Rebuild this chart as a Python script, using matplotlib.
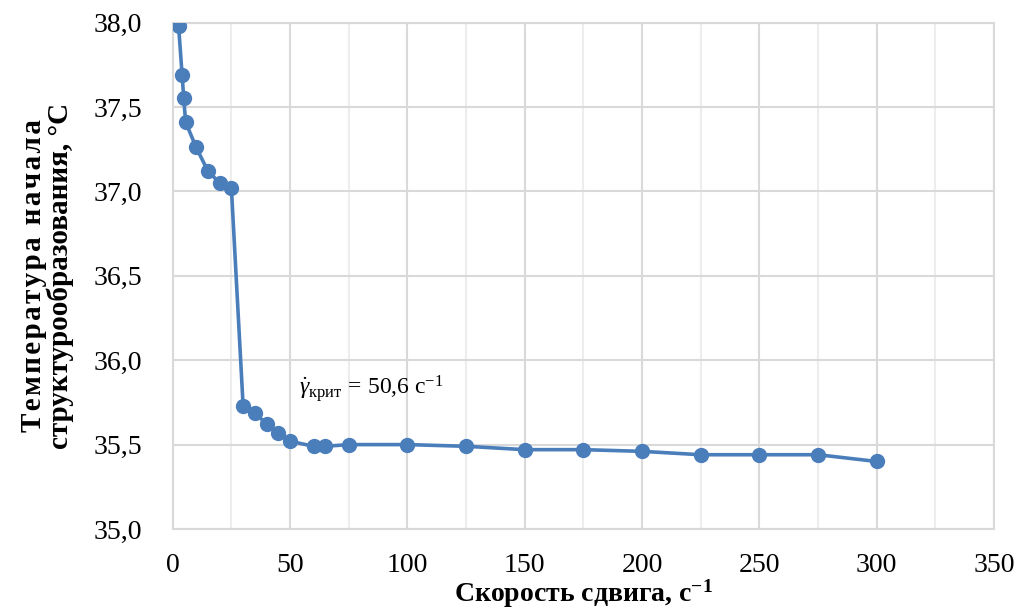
import numpy as np
import matplotlib.pyplot as plt
from matplotlib.ticker import MultipleLocator, FuncFormatter

# shear rate, 1/s
rate = [2.5, 4, 4.7, 5.5, 10, 15, 20, 25, 30, 35, 40, 45, 50, 60, 65, 75,
        100, 125, 150, 175, 200, 225, 250, 275, 300]
# onset temperature of structure formation, C
temp = [37.98, 37.69, 37.55, 37.41, 37.26, 37.12, 37.05, 37.02, 35.73, 35.69,
        35.62, 35.57, 35.52, 35.49, 35.49, 35.50, 35.50, 35.49, 35.47, 35.47,
        35.46, 35.44, 35.44, 35.44, 35.40]

plt.rcParams['font.family'] = ['Liberation Serif', 'DejaVu Serif']
plt.rcParams['mathtext.fontset'] = 'custom'
plt.rcParams['mathtext.rm'] = 'Liberation Serif'
plt.rcParams['mathtext.it'] = 'Liberation Serif:italic'
plt.rcParams['mathtext.bf'] = 'Liberation Serif:bold'

fig = plt.figure(figsize=(10.22, 6.12), dpi=100)
ax = fig.add_axes([0.1690, 0.1356, 0.8036, 0.8276])

ax.plot(rate, temp, color='#4a7ebb', lw=2.6, marker='o', ms=10, zorder=3)

ax.set_xlim(0, 350)
ax.set_ylim(35.0, 38.0)
ax.xaxis.set_major_locator(MultipleLocator(50))
ax.xaxis.set_minor_locator(MultipleLocator(25))
ax.yaxis.set_major_locator(MultipleLocator(0.5))
ax.yaxis.set_major_formatter(FuncFormatter(lambda v, p: f'{v:.1f}'.replace('.', ',')))

ax.grid(which='major', color='#d9d9d9', lw=1.5)
ax.grid(which='minor', axis='x', color='#ededed', lw=1.5)
ax.set_axisbelow(True)
for s in ax.spines.values():
    s.set_color('#d9d9d9')
    s.set_linewidth(1.5)

ax.tick_params(which='both', length=0, labelsize=20, colors='black')
ax.tick_params(axis='y', pad=22)
ax.tick_params(axis='x', pad=17)

ax.set_xlabel('Скорость сдвига, с$^{\\mathbf{-1}}$', fontsize=20, fontweight='bold')
ax.xaxis.set_label_coords(0.5, -0.127)
ax.xaxis.label.set_va('center')

# first line of the y label is letter-spaced in the original
line1 = '\u200a'.join('Температура начала')
ax.set_ylabel(line1 + '\nструктурообразования, °С', fontsize=21,
              fontweight='bold', labelpad=14, linespacing=1.0)

ax.text(54, 35.83, r'$\dot{\gamma}_{\mathrm{крит}}\,=\,50{,}6\ \mathrm{с}^{-1}$',
        fontsize=17, va='center', ha='left')

fig.savefig('out.png', dpi=100)
